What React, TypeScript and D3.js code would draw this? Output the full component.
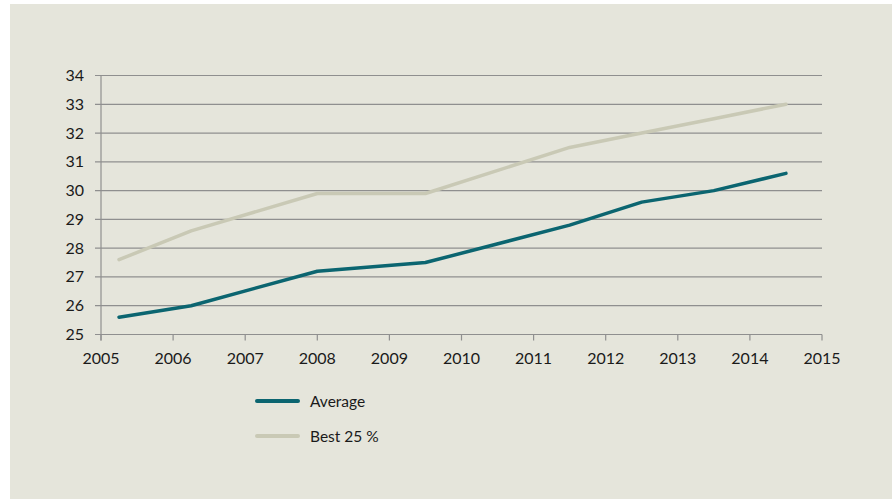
import * as d3 from "d3";
import React from "react";

const avgYears = [2005.25, 2006.25, 2008, 2009.5, 2011.5, 2012.5, 2013.5, 2014.5];
const avgValues = [25.6, 26.0, 27.2, 27.5, 28.8, 29.6, 30.0, 30.6];

const bestYears = [2005.25, 2006.25, 2008, 2009.5, 2011.5, 2012.5, 2013.5, 2014.5];
const bestValues = [27.6, 28.6, 29.9, 29.9, 31.5, 32.0, 32.5, 33.0];

const xTicks = [2005, 2006, 2007, 2008, 2009, 2010, 2011, 2012, 2013, 2014, 2015];
const yTicks = [25, 26, 27, 28, 29, 30, 31, 32, 33, 34];

const seriesNames = ["Average", "Best 25 %"];
const seriesColors = ["#0b6570", "#c9c9b5"];

const W = 892;
const H = 499;
const font = "Lato, 'Open Sans', sans-serif";

export default function App(): React.ReactElement {
  const x = d3.scaleLinear().domain([2005, 2015]).range([101, 822]);
  const y = d3.scaleLinear().domain([25, 34]).range([334.5, 75.5]);

  const line = d3
    .line<[number, number]>()
    .x((d) => x(d[0]))
    .y((d) => y(d[1]));

  const series = [
    avgYears.map((yr, i) => [yr, avgValues[i]] as [number, number]),
    bestYears.map((yr, i) => [yr, bestValues[i]] as [number, number]),
  ];

  return (
    <svg
      width={W}
      height={H}
      style={{ position: "absolute", left: 0, top: 0, display: "block" }}
    >
      <rect x={0} y={0} width={W} height={H} fill="#ffffff" />
      <rect x={10} y={4} width={W - 10} height={H - 4} fill="#e5e5db" />

      {/* grid */}
      {yTicks.map((t) => (
        <g key={`y-${t}`}>
          <line x1={95} x2={x(2015)} y1={y(t)} y2={y(t)} stroke="#8f8f8f" strokeWidth={1.2} />
          <text
            x={84}
            y={y(t) + 5.5}
            textAnchor="end"
            fontFamily={font}
            fontSize={16}
            fill="#1a1a1a"
          >
            {t}
          </text>
        </g>
      ))}
      <line x1={x(2005)} x2={x(2005)} y1={y(34)} y2={y(25) + 6} stroke="#8f8f8f" strokeWidth={1.2} />
      {xTicks.map((t) => (
        <g key={`x-${t}`}>
          <line x1={x(t)} x2={x(t)} y1={y(25)} y2={y(25) + 6} stroke="#8f8f8f" strokeWidth={1.2} />
          <text
            x={x(t)}
            y={364}
            textAnchor="middle"
            fontFamily={font}
            fontSize={16}
            fill="#1a1a1a"
          >
            {t}
          </text>
        </g>
      ))}

      {/* lines */}
      {series.map((s, i) => (
        <path
          key={seriesNames[i]}
          d={line(s) ?? ""}
          fill="none"
          stroke={seriesColors[i]}
          strokeWidth={3.5}
          strokeLinejoin="round"
          strokeLinecap="round"
        />
      ))}

      {/* legend */}
      {seriesNames.map((n, i) => (
        <g key={`leg-${n}`} transform={`translate(257,${401 + i * 35})`}>
          <line x1={0} x2={41} y1={0} y2={0} stroke={seriesColors[i]} strokeWidth={4} strokeLinecap="round" />
          <text x={53} y={5.5} fontFamily={font} fontSize={15.5} fill="#1a1a1a">
            {n}
          </text>
        </g>
      ))}
    </svg>
  );
}
